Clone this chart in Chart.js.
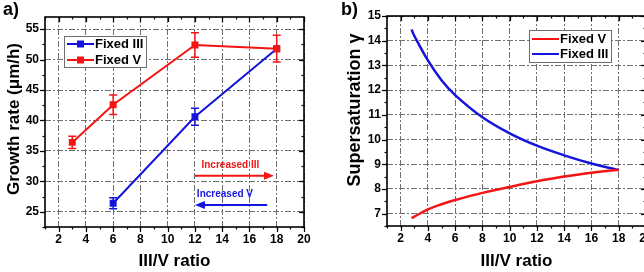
<!DOCTYPE html>
<html>
<head>
<meta charset="utf-8">
<script src="https://cdn.jsdelivr.net/npm/chart.js@4.4.1/dist/chart.umd.min.js"></script>
<style>
  html, body { margin: 0; padding: 0; background: #fff; overflow: hidden; }
  body { width: 644px; height: 272px; position: relative; }
  .panel { position: absolute; top: 0; height: 272px; }
  #panelA { left: 0; width: 322px; }
  #panelB { left: 330px; width: 330px; }
</style>
</head>
<body>
<div class="panel" id="panelA"><canvas id="chartA"></canvas></div>
<div class="panel" id="panelB"><canvas id="chartB"></canvas></div>
<script>
// a) growth rate vs III/V ratio
const ratioFixedV = [3, 6, 12, 18];
const rateFixedV = [36.4, 42.6, 52.4, 51.8];
const errFixedV = [1.0, 1.6, 2.0, 2.2];
const ratioFixedIII = [6, 12, 18];
const rateFixedIII = [26.4, 40.6, 51.8];
const errFixedIII = [0.9, 1.4, 0];
const ratioTicks = [2, 4, 6, 8, 10, 12, 14, 16, 18, 20];
const rateTicks = [25, 30, 35, 40, 45, 50, 55];

// b) supersaturation vs III/V ratio
const curveRatioV = [2.8, 3, 4, 5, 6, 8, 10, 12, 14, 16, 18];
const gammaFixedV = [6.82, 6.88, 7.17, 7.38, 7.55, 7.84, 8.08, 8.31, 8.5, 8.66, 8.78];
const curveRatioIII = [2.8, 3, 4, 5, 6, 8, 10, 12, 14, 16, 18];
const gammaFixedIII = [14.45, 14.2, 13.2, 12.4, 11.8, 10.9, 10.25, 9.75, 9.36, 9.03, 8.76];
const gammaTicks = [7, 8, 9, 10, 11, 12, 13, 14, 15];

const RED = '#f41414';
const BLUE = '#1414dc';
const FONT = "'Liberation Sans', Arial, sans-serif";

const pts = (xs, ys) => xs.map((x, i) => ({ x: x, y: ys[i] }));

// origin style ticks (out on bottom/left, in on top/right) and the box
const framePlugin = {
    id: 'frame',
    afterDatasetsDraw(chart, args, o) {
        const { ctx, chartArea: a, scales: { x, y } } = chart;
        ctx.save();
        ctx.strokeStyle = '#000';
        ctx.lineWidth = 1.2;
        const tickX = (v, len) => {
            const px = Math.round(x.getPixelForValue(v)) + 0.5;
            ctx.beginPath(); ctx.moveTo(px, a.bottom); ctx.lineTo(px, a.bottom + len); ctx.stroke();
            ctx.beginPath(); ctx.moveTo(px, a.top); ctx.lineTo(px, a.top + len); ctx.stroke();
        };
        const tickY = (v, len) => {
            const py = Math.round(y.getPixelForValue(v)) + 0.5;
            ctx.beginPath(); ctx.moveTo(a.left, py); ctx.lineTo(a.left - len, py); ctx.stroke();
            ctx.beginPath(); ctx.moveTo(a.right, py); ctx.lineTo(a.right - len, py); ctx.stroke();
        };
        for (let v = x.min; v <= x.max + 1e-9; v += o.xMinor) tickX(v, 2.5);
        for (let v = Math.ceil(y.min / o.yMinor) * o.yMinor; v <= y.max + 1e-9; v += o.yMinor) tickY(v, 2.5);
        x.ticks.forEach(t => tickX(t.value, 5));
        y.ticks.forEach(t => tickY(t.value, 5));
        ctx.lineWidth = 1.6;
        ctx.strokeRect(a.left, a.top, a.right - a.left, a.bottom - a.top);
        ctx.restore();
    }
};

// vertical error bars read from dataset.errors
const errorBarPlugin = {
    id: 'errorBars',
    afterDatasetsDraw(chart) {
        const { ctx, scales: { y } } = chart;
        chart.data.datasets.forEach((ds, i) => {
            if (!ds.errors) return;
            const meta = chart.getDatasetMeta(i);
            ctx.save();
            ctx.strokeStyle = ds.borderColor;
            ctx.lineWidth = 1.5;
            meta.data.forEach((pt, j) => {
                const e = ds.errors[j];
                if (!e) return;
                const v = ds.data[j].y;
                const y1 = y.getPixelForValue(v + e);
                const y2 = y.getPixelForValue(v - e);
                ctx.beginPath();
                ctx.moveTo(pt.x, y1); ctx.lineTo(pt.x, y2);
                ctx.moveTo(pt.x - 4, y1); ctx.lineTo(pt.x + 4, y1);
                ctx.moveTo(pt.x - 4, y2); ctx.lineTo(pt.x + 4, y2);
                ctx.stroke();
            });
            ctx.restore();
        });
    }
};

// legend box, arrows, free text
const notesPlugin = {
    id: 'notes',
    afterDraw(chart, args, o) {
        const { ctx, scales: { x, y } } = chart;
        ctx.save();
        (o.arrows || []).forEach(ar => {
            const x1 = x.getPixelForValue(ar.from), x2 = x.getPixelForValue(ar.to);
            const py = y.getPixelForValue(ar.y);
            const dir = Math.sign(x2 - x1);
            ctx.strokeStyle = ar.color; ctx.fillStyle = ar.color; ctx.lineWidth = 2;
            ctx.beginPath(); ctx.moveTo(x1, py); ctx.lineTo(x2 - dir * 6, py); ctx.stroke();
            ctx.beginPath(); ctx.moveTo(x2, py);
            ctx.lineTo(x2 - dir * 10, py - 4); ctx.lineTo(x2 - dir * 10, py + 4);
            ctx.closePath(); ctx.fill();
        });
        (o.dataTexts || []).forEach(t => {
            ctx.font = t.font; ctx.fillStyle = t.color;
            ctx.textAlign = 'center'; ctx.textBaseline = 'middle';
            ctx.fillText(t.text, x.getPixelForValue(t.x), y.getPixelForValue(t.y));
        });
        (o.texts || []).forEach(t => {
            ctx.save();
            ctx.translate(t.x, t.y);
            ctx.rotate(t.rotate || 0);
            ctx.font = t.font; ctx.fillStyle = '#000';
            ctx.textAlign = t.align || 'center'; ctx.textBaseline = 'middle';
            ctx.fillText(t.text, 0, 0);
            ctx.restore();
        });
        if (o.legend) {
            const L = o.legend;
            ctx.fillStyle = '#fff';
            ctx.fillRect(L.x, L.y, L.w, L.h);
            ctx.strokeStyle = '#6e6e6e'; ctx.lineWidth = 1;
            ctx.strokeRect(L.x + 0.5, L.y + 0.5, L.w, L.h);
            L.items.forEach((it, k) => {
                const ry = L.y + L.firstRow + k * L.rowGap;
                ctx.strokeStyle = it.color; ctx.lineWidth = 2;
                ctx.beginPath(); ctx.moveTo(L.x + 3, ry); ctx.lineTo(L.x + 30, ry); ctx.stroke();
                if (L.marker) {
                    ctx.fillStyle = it.color;
                    ctx.fillRect(L.x + 13, ry - 3.5, 7, 7);
                }
                ctx.fillStyle = '#000';
                ctx.font = 'bold 13px ' + FONT;
                ctx.textAlign = 'left'; ctx.textBaseline = 'middle';
                ctx.fillText(it.label, L.x + 31, ry + 0.5);
            });
        }
        ctx.restore();
    }
};

const tickFont = { family: FONT, size: 12, weight: 'bold' };
const titleFont = { family: FONT, size: 17, weight: 'bold' };
const gridOpts = { display: true, color: '#6f6f6f', lineWidth: 1, drawTicks: false };
const borderOpts = { display: false, dash: [6, 2, 2, 2] };

function axes(xTickVals, yTickVals, xr, yr, yWidth, xHeight, titlePad) {
    return {
        x: {
            type: 'linear', min: xr[0], max: xr[1],
            afterBuildTicks: s => { s.ticks = xTickVals.map(v => ({ value: v })); },
            afterFit: s => { s.height = xHeight; },
            grid: gridOpts,
            border: borderOpts,
            ticks: { color: '#000', font: tickFont, padding: 5, maxRotation: 0, autoSkip: false },
            title: { display: true, text: 'III/V ratio', color: '#000', font: titleFont, padding: { top: titlePad, bottom: 0 } }
        },
        y: {
            type: 'linear', min: yr[0], max: yr[1],
            afterBuildTicks: s => { s.ticks = yTickVals.map(v => ({ value: v })); },
            afterFit: s => { s.width = yWidth; },
            grid: gridOpts,
            border: borderOpts,
            ticks: { color: '#000', font: tickFont, padding: 6, autoSkip: false }
        }
    };
}

Chart.defaults.font.family = FONT;

new Chart(document.getElementById('chartA').getContext('2d'), {
    type: 'line',
    data: {
        datasets: [
            {
                label: 'Fixed V',
                data: pts(ratioFixedV, rateFixedV),
                errors: errFixedV,
                borderColor: RED, backgroundColor: RED,
                borderWidth: 2, pointStyle: 'rect', pointRadius: 3.5,
                order: 0
            },
            {
                label: 'Fixed III',
                data: pts(ratioFixedIII, rateFixedIII),
                errors: errFixedIII,
                borderColor: BLUE, backgroundColor: BLUE,
                borderWidth: 2, pointStyle: 'rect', pointRadius: 3.5,
                order: 1
            }
        ]
    },
    options: {
        responsive: true,
        maintainAspectRatio: false,
        animation: false,
        layout: { padding: { top: 17, right: 18, left: 0, bottom: 0 } },
        scales: axes(ratioTicks, rateTicks, [1, 20], [22.5, 57], 45, 45, 0),
        plugins: {
            legend: { display: false },
            tooltip: { enabled: false },
            frame: { xMinor: 1, yMinor: 2.5 },
            notes: {
                arrows: [
                    { from: 12, to: 17.8, y: 30.9, color: RED },
                    { from: 17.3, to: 12, y: 26.1, color: BLUE }
                ],
                dataTexts: [
                    { text: 'Increased III', x: 14.6, y: 32.7, color: RED, font: 'bold 10px ' + FONT },
                    { text: 'Increased V', x: 14.2, y: 27.9, color: BLUE, font: 'bold 10px ' + FONT }
                ],
                texts: [
                    { text: 'a)', x: 3, y: 10, align: 'left', font: 'bold 18px ' + FONT },
                    { text: 'Growth rate (\u03bcm/h)', x: 14, y: 119, rotate: -Math.PI / 2, font: 'bold 17px ' + FONT }
                ],
                legend: {
                    x: 64, y: 36, w: 82, h: 31, firstRow: 8, rowGap: 16, marker: true,
                    items: [
                        { label: 'Fixed III', color: BLUE },
                        { label: 'Fixed V', color: RED }
                    ]
                }
            }
        }
    },
    plugins: [framePlugin, errorBarPlugin, notesPlugin]
});

new Chart(document.getElementById('chartB').getContext('2d'), {
    type: 'line',
    data: {
        datasets: [
            {
                label: 'Fixed V',
                data: pts(curveRatioV, gammaFixedV),
                borderColor: RED, borderWidth: 2.5,
                pointRadius: 0, tension: 0.4
            },
            {
                label: 'Fixed III',
                data: pts(curveRatioIII, gammaFixedIII),
                borderColor: BLUE, borderWidth: 2.5,
                pointRadius: 0, tension: 0.4
            }
        ]
    },
    options: {
        responsive: true,
        maintainAspectRatio: false,
        animation: false,
        layout: { padding: { top: 16, right: 14, left: 0, bottom: 0 } },
        scales: axes(ratioTicks, gammaTicks, [1, 20], [6.5, 15], 57, 46, 4),
        plugins: {
            legend: { display: false },
            tooltip: { enabled: false },
            frame: { xMinor: 1, yMinor: 0.5 },
            notes: {
                texts: [
                    { text: 'b)', x: 11, y: 10, align: 'left', font: 'bold 18px ' + FONT },
                    { text: 'Supersaturation \u03b3', x: 25, y: 110, rotate: -Math.PI / 2, font: 'bold 18px ' + FONT }
                ],
                legend: {
                    x: 199, y: 30, w: 82, h: 32, firstRow: 9, rowGap: 15, marker: false,
                    items: [
                        { label: 'Fixed V', color: RED },
                        { label: 'Fixed III', color: BLUE }
                    ]
                }
            }
        }
    },
    plugins: [framePlugin, notesPlugin]
});
</script>
</body>
</html>
